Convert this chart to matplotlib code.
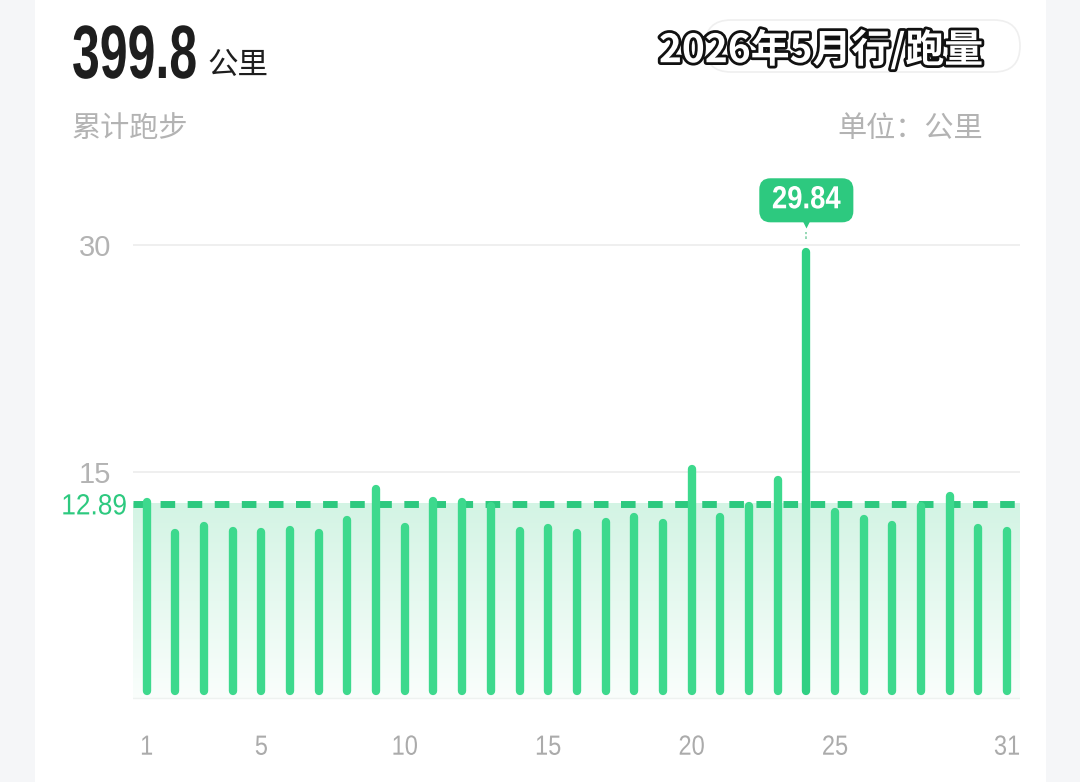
import matplotlib
matplotlib.use('Agg')
import matplotlib.pyplot as plt
import numpy as np
from matplotlib.colors import LinearSegmentedColormap
from matplotlib.patches import Rectangle, FancyBboxPatch
import matplotlib.patheffects as pe
from matplotlib import transforms

# ---------------- data ----------------
days = list(range(1, 32))
distance_km = [13.24, 11.19, 11.65, 11.32, 11.26, 11.41, 11.19, 12.07, 14.12, 11.63,
               13.35, 13.24, 13.02, 11.32, 11.54, 11.19, 11.92, 12.29, 11.87, 15.45,
               12.29, 13.02, 14.72, 29.84, 12.62, 12.14, 11.76, 13.02, 13.64, 11.54, 11.32]
avg_km = 12.89
total_km = "399.8"
peak_day = 24
xtick_days = [1, 5, 10, 15, 20, 25, 31]
ytick_vals = [15, 30]
title_text = "2026年5月行/跑量"
unit_text = "公里"
sub_text = "累计跑步"
unit_label = "单位：公里"

# ---------------- style ----------------
W, H = 1080, 782
CJK = ['Noto Sans CJK SC', 'DejaVu Sans']
NUM = ['Liberation Sans', 'DejaVu Sans']
BAR = '#3dd98d'
BAR_PEAK = '#2fd083'
GREEN = '#2dc97f'
GRAY = '#b3b3b3'


class GlyphScale(pe.AbstractPathEffect):
    """Scale glyph outlines around an anchor point (display px)."""
    def __init__(self, sx, sy, x0, y0=0.0):
        super().__init__()
        self.sx, self.sy, self.x0, self.y0 = sx, sy, x0, y0

    def draw_path(self, renderer, gc, tpath, affine, rgbFace=None):
        t = affine + (transforms.Affine2D().translate(-self.x0, -self.y0)
                      .scale(self.sx, self.sy).translate(self.x0, self.y0))
        renderer.draw_path(gc, tpath, t, rgbFace)


fig = plt.figure(figsize=(W / 100, H / 100), dpi=100)
fig.patch.set_facecolor('#f5f6f8')
fig.add_artist(Rectangle((35 / W, 0), (1046 - 35) / W, 1, transform=fig.transFigure,
                         fc='white', ec='none', zorder=0))


def fx(x):
    return x / W


def fy(y):
    return 1 - y / H


# axes: pixel box left 133, right 1020, top 230, bottom 700
ax = fig.add_axes([fx(133), (H - 700) / H, (1020 - 133) / W, (700 - 230) / H])
ax.set_facecolor('none')
zero_px = 698.4
ppu = 15.11
ylo = -(700 - zero_px) / ppu
yhi = (zero_px - 230) / ppu
xlo, xhi = 0.523, 31.45
ax.set_xlim(xlo, xhi)
ax.set_ylim(ylo, yhi)

# gradient fill under average
cmap = LinearSegmentedColormap.from_list('mint', ['#fafefc', '#d3f4e4'])
grad = np.linspace(0, 1, 256).reshape(-1, 1)
ax.imshow(grad, extent=[xlo, xhi, 0, avg_km], origin='lower', aspect='auto',
          cmap=cmap, zorder=0.2, interpolation='bicubic')

# grid lines
for v in ytick_vals:
    ax.axhline(v, color='#eeeeee', lw=1.3, zorder=0.5)
ax.axhline(0, color='#eef2f0', lw=1.0, zorder=0.4)

# bars as rounded lines
cap = 4 / ppu
base = (zero_px - 691) / ppu
for d, v in zip(days, distance_km):
    ax.plot([d, d], [base, v - cap], lw=6.0, solid_capstyle='round',
            color=BAR_PEAK if d == peak_day else BAR, zorder=3)

# average dashed line
ax.axhline(avg_km, color=GREEN, lw=5, linestyle=(0, (2.1, 1.8)), zorder=2.5)

# average label
ax_left_px = ax.transAxes.transform((0, 0))[0]
ax.annotate(f'{avg_km:.2f}', xy=(0, avg_km), xycoords=('axes fraction', 'data'),
            xytext=(-4.5, -2.0), textcoords='offset points', ha='right', va='center',
            fontsize=21, color=GREEN, family=NUM, annotation_clip=False,
            path_effects=[GlyphScale(0.9, 1.0, ax_left_px - 6)])

# tooltip for peak
peak_val = distance_km[days.index(peak_day)]
peak_px = ax.transData.transform((peak_day, peak_val))[0]
ax.annotate(f'{peak_val:.2f}', xy=(peak_day, peak_val), xytext=(0, 34),
            textcoords='offset points', ha='center', va='center', color='white',
            fontsize=23, fontweight='bold', family=NUM, annotation_clip=False,
            bbox=dict(boxstyle='round,pad=0.22,rounding_size=0.35', fc=GREEN, ec='none'),
            path_effects=[GlyphScale(0.86, 1.0, peak_px)], zorder=6)
tri_tr = transforms.offset_copy(ax.transData, fig=fig, x=0, y=18.0, units='points')
ax.plot([peak_day], [peak_val], marker='v', ms=7, color=GREEN, mec='none',
        transform=tri_tr, clip_on=False, zorder=6)
stub_lo = transforms.offset_copy(ax.transData, fig=fig, x=0, y=6, units='points')
stub_hi = transforms.offset_copy(ax.transData, fig=fig, x=0, y=11.5, units='points')
p0 = stub_lo.transform((peak_day, peak_val))
p1 = stub_hi.transform((peak_day, peak_val))
ax.plot([p0[0], p1[0]], [p0[1], p1[1]], transform=None, color='#8ed6b0', lw=1.3,
        linestyle=(0, (1.5, 1.2)), clip_on=False, zorder=6)

# ticks
ax.set_xticks(xtick_days)
ax.set_xticklabels([str(d) for d in xtick_days])
ax.set_yticks(ytick_vals)
ax.set_yticklabels([str(v) for v in ytick_vals])
ax.tick_params(axis='x', length=0, pad=25, labelsize=20, labelcolor='#ababab')
ax.tick_params(axis='y', length=0, pad=16, labelsize=21, labelcolor=GRAY)
for tick, d in zip(ax.xaxis.get_major_ticks(), xtick_days):
    tick.label1.set_family(NUM)
    tick.label1.set_path_effects([GlyphScale(0.85, 1.0, ax.transData.transform((d, 0))[0])])
for lbl in ax.get_yticklabels():
    lbl.set_family(NUM)
for s in ax.spines.values():
    s.set_visible(False)

# header: condensed-looking big number (narrow font size, stretched tall from baseline)
base_y_px = 78
t_total = fig.text(fx(72), fy(base_y_px), total_km, ha='left', va='baseline', fontsize=36,
                   fontweight='bold', color='#1e1e1e', family=NUM,
                   path_effects=[GlyphScale(1.0, 1.51, 72, H - base_y_px)])
renderer = fig.canvas.get_renderer()
bb = t_total.get_window_extent(renderer)
fig.text((bb.x1 + 10) / W, fy(65), unit_text, ha='left', va='center',
         fontsize=22, color='#1e1e1e', family=CJK)
fig.text(fx(72), fy(129), sub_text, ha='left', va='center', fontsize=21,
         color=GRAY, family=CJK)
fig.text(fx(983), fy(129), unit_label, ha='right', va='center', fontsize=21,
         color=GRAY, family=CJK)

# faint pill behind title
fig.add_artist(FancyBboxPatch((705, H - 72), 315, 52,
                              boxstyle='round,pad=0,rounding_size=26', transform=None,
                              fc='none', ec='#efefef', lw=1.2, zorder=1))
fig.text(fx(821), fy(50), title_text, ha='center', va='center', fontsize=28,
         fontweight='bold', color='white', family=CJK, zorder=5,
         path_effects=[pe.withStroke(linewidth=4, foreground='#111111')])

fig.savefig('out.png', dpi=100, facecolor=fig.get_facecolor())
